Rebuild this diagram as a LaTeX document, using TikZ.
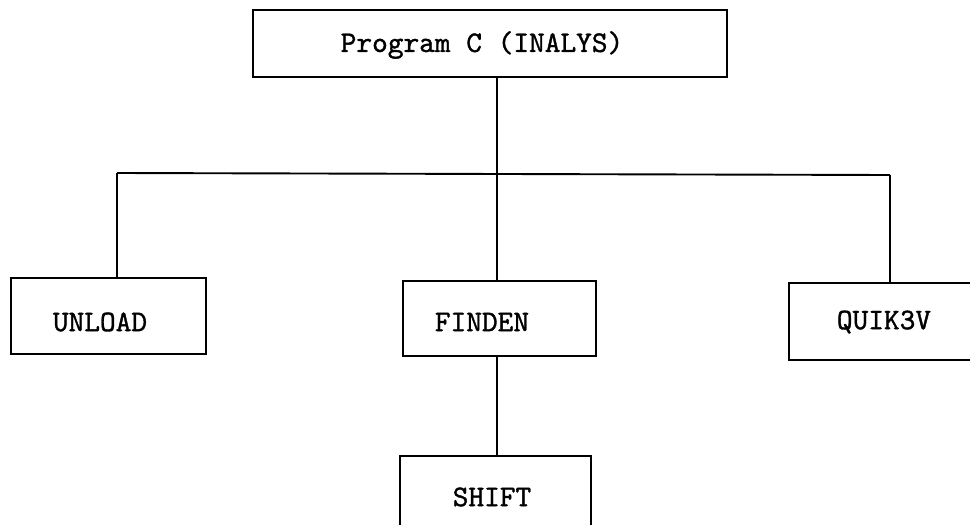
\documentclass[tikz,border=0pt]{standalone}
\usepackage{fontspec}
\newfontfamily\typer{lmmono10-regular.otf}[FakeBold=1.2]
\usetikzlibrary{calc}
\tikzset{
  modbox/.style={draw=black, line width=2.2pt, rectangle, inner sep=0pt, anchor=north west},
  modtext/.style={font=\fontsize{29.9pt}{34pt}\selectfont\typer, inner sep=0pt, text=black},
  link/.style={draw=black, line width=1.9pt},
}
\begin{document}
\begin{tikzpicture}[x=1pt, y=-1pt]
  \useasboundingbox (0,0) rectangle (970,525);
  \clip (0,0) rectangle (970,525);
  \fill[white] (0,0) rectangle (970,525);

  % module boxes (top-left corner, width, height)
  \node[modbox, minimum width=474pt, minimum height=67pt] (top) at (252,9) {};
  \node[modbox, minimum width=195pt, minimum height=76pt] (unload) at (10,277) {};
  \node[modbox, minimum width=193pt, minimum height=75pt] (finden) at (402,280) {};
  \node[modbox, minimum width=200pt, minimum height=77pt] (quik) at (788,282) {};
  \node[modbox, minimum width=191pt, minimum height=90pt] (shift) at (399,455) {};

  % module names
  \node[modtext] (toptxt) at (482,45) {Program C (INALYS)};
  \node[modtext] (unloadtxt) at (100,322) {UNLOAD};
  \node[modtext] (findentxt) at (482,322) {FINDEN};
  \node[modtext] (quiktxt) at (884,322) {QUIK3V};
  \node[modtext] (shifttxt) at (492,497) {SHIFT};

  % branching points of the call tree
  \coordinate (j) at (497,174);
  \coordinate (bl) at (117,173);
  \coordinate (br) at (890,175);

  \draw[link] (top.south -| j) -- (j);
  \draw[link] (bl) -- (br);
  \draw[link] (bl) -- (unload.north -| bl);
  \draw[link] (j) -- (finden.north -| j);
  \draw[link] (br) -- (quik.north -| br);
  \draw[link] (finden.south -| j) -- (shift.north -| j);
\end{tikzpicture}
\end{document}
